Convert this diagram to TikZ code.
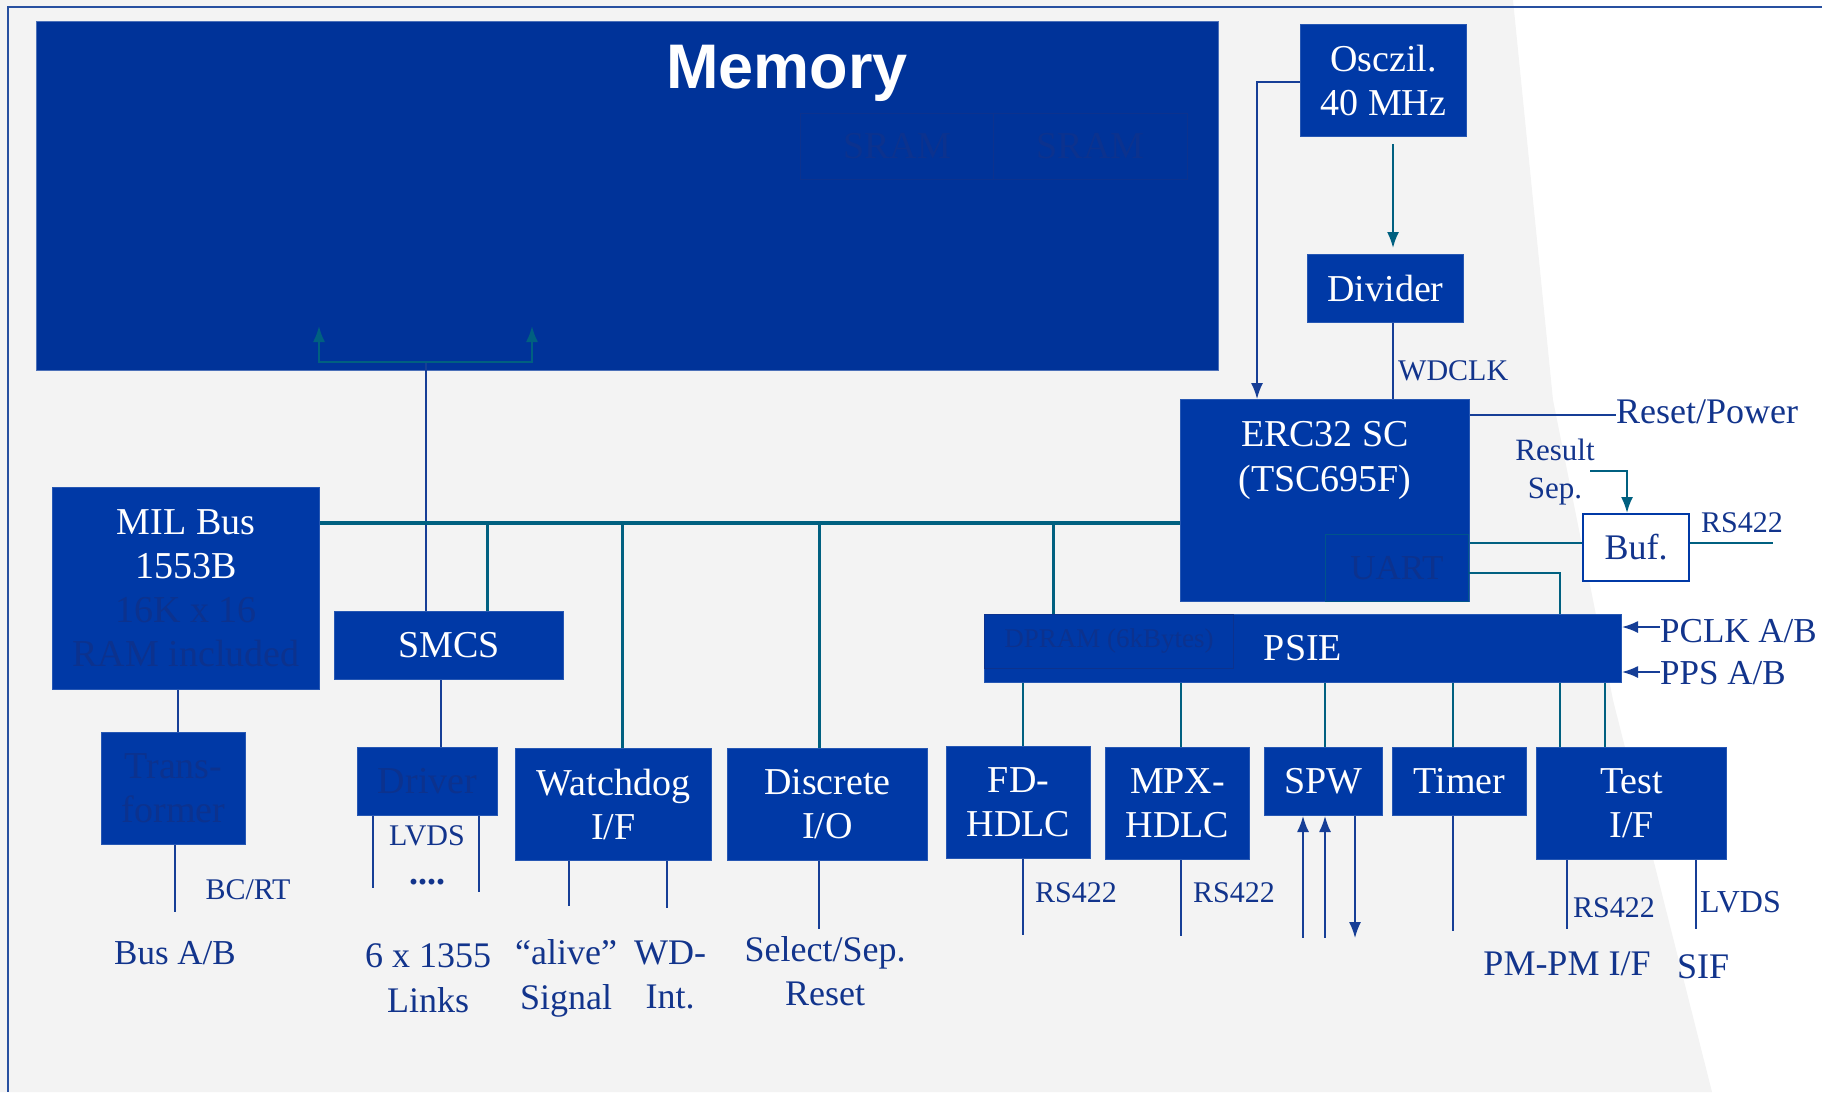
\documentclass[tikz,border=0pt]{standalone}
\usepackage{fontspec}
\setmainfont{Liberation Serif}
\newfontfamily\headfont{Liberation Sans}
\usetikzlibrary{positioning,arrows.meta,calc}

\definecolor{boxblue}{RGB}{0,57,166}
\definecolor{membg}{RGB}{0,51,153}
\definecolor{busteal}{RGB}{0,96,128}
\definecolor{wireblue}{RGB}{22,62,150}
\definecolor{txtblue}{RGB}{18,52,140}
\definecolor{faint}{RGB}{12,50,142}
\definecolor{pagegray}{RGB}{243,243,243}
\definecolor{framecol}{RGB}{40,80,160}

\begin{document}
\begin{tikzpicture}[x=1pt, y=-1pt,
    blk/.style={draw=boxblue!85!white, line width=1pt, fill=boxblue, text=white, anchor=north west,
                inner sep=0pt, align=center, font=\fontsize{38}{44}\selectfont},
    ghostbox/.style={draw=faint, line width=1pt, text=faint, anchor=north west,
                inner sep=0pt, align=center, font=\fontsize{38}{44}\selectfont},
    lbl/.style={text=txtblue, inner sep=0pt, align=center, font=\fontsize{36}{44}\selectfont},
    sublbl/.style={lbl, font=\fontsize{30}{38}\selectfont},
    bus/.style={draw=busteal, line width=4pt},
    busdrop/.style={draw=busteal, line width=3pt},
    tline/.style={draw=busteal, line width=2pt},
    wire/.style={draw=wireblue, line width=1.6pt},
    endtip/.style={-{Latex[length=16pt,width=12pt]}},
    begintip/.style={{Latex[length=16pt,width=12pt]}-}]
    \useasboundingbox (0,0) rectangle (1822,1092);

    % page background and frame
    \fill[pagegray] (0,0) -- (1513,0) -- (1553,400) -- (1613,700) -- (1712,1092) -- (0,1092) -- cycle;
    \draw[framecol, line width=2pt] (1822,7) -- (8,7) -- (8,1092);

    % memory
    \node[blk, fill=membg, draw=membg!70!white, minimum width=1182pt, minimum height=349pt] (mem) at (36,21) {};
    \node[text=white, anchor=base, inner sep=0pt, font=\headfont\bfseries\fontsize{63}{70}\selectfont] (memtitle) at (787,88) {Memory};
    \node[ghostbox, minimum width=193pt, minimum height=66pt] (sramA) at (800,113) {SRAM};
    \node[ghostbox, minimum width=194pt, minimum height=66pt] (sramB) at (993,113) {SRAM};

    % left column
    \node[blk, minimum width=267pt, minimum height=202pt] (mil) at (52,487) {MIL Bus\\1553B\\\textcolor{faint}{16K x 16}\\\textcolor{faint}{RAM included}};
    \node[blk, text=faint, minimum width=144pt, minimum height=112pt] (trafo) at (101,732) {Trans-\\former};
    \node[blk, minimum width=229pt, minimum height=68pt] (smcs) at (334,611) {SMCS};
    \node[blk, text=faint, minimum width=140pt, minimum height=68pt] (driver) at (357,747) {Driver};
    \node[blk, minimum width=196pt, minimum height=112pt] (wdog) at (515,748) {Watchdog\\I/F};
    \node[blk, minimum width=200pt, minimum height=112pt] (disc) at (727,748) {Discrete\\I/O};

    % right column
    \node[blk, minimum width=166pt, minimum height=112pt] (osc) at (1300,24) {Osczil.\\40 MHz};
    \node[blk, minimum width=156pt, minimum height=68pt] (div) at (1307,254) {Divider};
    \node[blk, minimum width=289pt, minimum height=202pt] (erc) at (1180,399) {};
    \node[text=white, inner sep=0pt, align=center, font=\fontsize{38}{45}\selectfont] (erctxt) at (1325,460) {ERC32 SC\\(TSC695F)};
    \node[ghostbox, draw=busteal!70!boxblue, minimum width=143pt, minimum height=67pt, font=\fontsize{35}{40}\selectfont] (uart) at (1325,534) {UART};
    \node[blk, fill=white, draw=boxblue, line width=2pt, text=txtblue, font=\fontsize{36}{40}\selectfont, minimum width=106pt, minimum height=67pt] (buf) at (1582,513) {Buf.};
    \node[blk, minimum width=637pt, minimum height=68pt] (psie) at (984,614) {PSIE};
    \node[ghostbox, minimum width=249pt, minimum height=54pt, font=\fontsize{27}{30}\selectfont] (dpram) at (984,614) {DPRAM (6kBytes)};

    % lower row
    \node[blk, minimum width=144pt, minimum height=112pt] (fd) at (946,746) {FD-\\HDLC};
    \node[blk, minimum width=144pt, minimum height=112pt] (mpx) at (1105,747) {MPX-\\HDLC};
    \node[blk, minimum width=118pt, minimum height=68pt] (spw) at (1264,747) {SPW};
    \node[blk, minimum width=134pt, minimum height=68pt] (timer) at (1392,747) {Timer};
    \node[blk, minimum width=190pt, minimum height=112pt] (test) at (1536,747) {Test\\I/F};

    % labels
    \node[sublbl, anchor=base] (bcrt) at (248,899) {BC/RT};
    \node[lbl, anchor=base, font=\fontsize{35}{42}\selectfont] (busab) at (175,964) {Bus A/B};
    \node[sublbl, anchor=base] (lvdsA) at (427,845) {LVDS};
    \node[lbl, anchor=base] (dots) at (427,884) {\textbf{....}};
    \node[lbl, font=\fontsize{36}{45}\selectfont] (links) at (428,978) {6 x 1355\\Links};
    \node[lbl, font=\fontsize{36}{45}\selectfont] (alive) at (566,978) {“alive”\\Signal};
    \node[lbl] (wdint) at (670,975) {WD-\\Int.};
    \node[lbl] (selsep) at (825,971) {Select/Sep.\\Reset};
    \node[sublbl, anchor=base west] (wdclk) at (1398,380) {WDCLK};
    \node[lbl, anchor=base west] (rstlbl) at (1616,423) {Reset/Power};
    \node[lbl, font=\fontsize{31}{38}\selectfont] (reslbl) at (1555,472) {Result\\Sep.};
    \node[sublbl, anchor=base] (rsbuf) at (1742,532) {RS422};
    \node[lbl, anchor=base west, font=\fontsize{35}{40}\selectfont] (pclk) at (1660,642) {PCLK A/B};
    \node[lbl, anchor=base west, font=\fontsize{35}{40}\selectfont] (pps) at (1660,684) {PPS A/B};
    \node[sublbl, anchor=base west] (rsfd) at (1035,902) {RS422};
    \node[sublbl, anchor=base west] (rsmpx) at (1193,902) {RS422};
    \node[sublbl, anchor=base] (rstest) at (1614,917) {RS422};
    \node[sublbl, anchor=base west, font=\fontsize{32}{38}\selectfont] (lvdsB) at (1700,912) {LVDS};
    \node[lbl, anchor=base] (pmpm) at (1567,975) {PM-PM I/F};
    \node[lbl, anchor=base] (sif) at (1703,978) {SIF};

    % memory access
    \coordinate (mfork) at (426,362);
    \coordinate (mwrite) at (319,326);
    \coordinate (mread) at (532,326);
    \draw[wire] (smcs.north -| mfork) -- (mfork);
    \draw[tline, endtip] (mfork) -| (mwrite);
    \draw[tline, endtip] (mfork) -| (mread);

    % processor bus
    \coordinate (busy) at (0,523);
    \draw[bus] (mil.east |- busy) -- (erc.west |- busy);
    \foreach \bx/\tgt in {487/smcs, 622/wdog, 819/disc, 1053/psie}
        \draw[busdrop] (busy -| \bx,0) -- (\tgt.north -| \bx,0);

    % left side wires
    \draw[wire] (mil.south -| 178,0) -- (trafo.north -| 178,0);
    \draw[wire] (trafo.south -| 175,0) -- ++(0,67);
    \draw[wire] (smcs.south -| 441,0) -- (driver.north -| 441,0);
    \draw[wire] (driver.south -| 373,0) -- ++(0,72);
    \draw[wire] (driver.south -| 479,0) -- ++(0,76);
    \draw[wire] (wdog.south -| 569,0) -- ++(0,45);
    \draw[wire] (wdog.south -| 667,0) -- ++(0,47);
    \draw[wire] (disc.south -| 819,0) -- ++(0,68);

    % clock and processor
    \draw[wire, endtip] (osc.west |- 0,82) -| (erc.north -| 1257,0);
    \draw[tline, endtip, shorten <=7pt, shorten >=6pt] (osc.south -| 1393,0) -- (div.north -| 1393,0);
    \draw[wire] (div.south -| 1393,0) -- (erc.north -| 1393,0);
    \draw[wire] (erc.east |- 0,415) -- (rstlbl.west |- 0,415);
    \coordinate (resout) at (1590,471);
    \draw[tline, endtip] (resout) -| (buf.north -| 1627,0);
    \draw[tline] (erc.east |- 0,543) -- (buf.west |- 0,543);
    \draw[tline] (buf.east |- 0,543) -- ++(83,0);
    \draw[tline] (uart.east |- 0,573) -| (psie.north -| 1560,0);
    \draw[wire, endtip] (pclk.west |- 0,627) -- (psie.east |- 0,627);
    \draw[wire, endtip] (pps.west |- 0,672) -- (psie.east |- 0,672);

    % psie outputs
    \foreach \bx/\tgt in {1023/fd, 1181/mpx, 1325/spw, 1453/timer, 1560/test, 1605/test}
        \draw[tline] (psie.south -| \bx,0) -- (\tgt.north -| \bx,0);
    \draw[wire] (fd.south -| 1023,0) -- ++(0,76);
    \draw[wire] (mpx.south -| 1181,0) -- ++(0,76);
    \draw[wire, begintip] (spw.south -| 1303,0) -- ++(0,122);
    \draw[wire, begintip] (spw.south -| 1325,0) -- ++(0,122);
    \draw[wire, endtip] (spw.south -| 1355,0) -- ++(0,122);
    \draw[wire] (timer.south -| 1453,0) -- ++(0,115);
    \draw[wire] (test.south -| 1567,0) -- ++(0,69);
    \draw[wire] (test.south -| 1696,0) -- ++(0,69);
\end{tikzpicture}
\end{document}
